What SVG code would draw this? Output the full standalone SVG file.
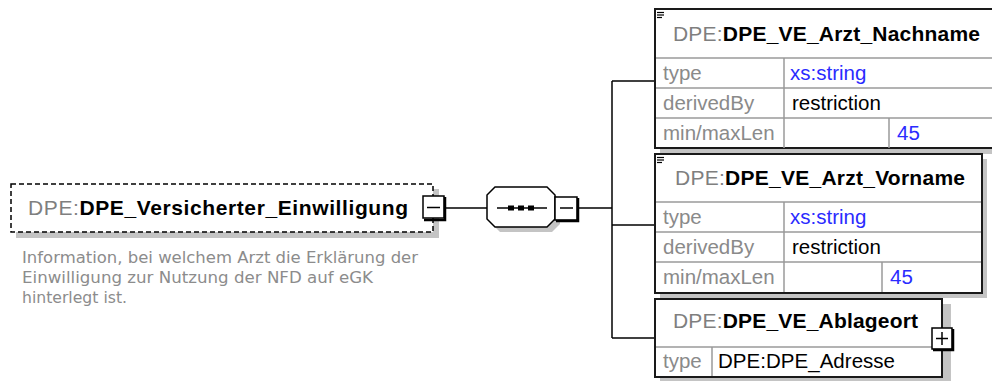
<svg xmlns="http://www.w3.org/2000/svg" width="992" height="381" viewBox="0 0 992 381">
<defs>
<style>
.bg{fill:#ffffff}
.sh{fill:#c4c4c4}
.box{fill:#ffffff;stroke:#1a1a1a;stroke-width:2}
.grid{stroke:#9a9a9a;stroke-width:1.5;fill:none}
.conn{stroke:#000;stroke-width:1.5;fill:none}
.hdr{font-family:"Liberation Sans",Arial,sans-serif;font-size:21px}
.pre{fill:#7f7f7f}
.nm{fill:#000;font-weight:bold}
.lbl{font-family:"Liberation Sans",Arial,sans-serif;font-size:20.5px;fill:#8a8a8a}
.val{font-family:"Liberation Sans",Arial,sans-serif;font-size:20.5px;fill:#000}
.blue{fill:#2b2bff}
.doc{font-family:"DejaVu Sans",Verdana,sans-serif;font-size:15px;fill:#8c8c8c}
.btn{fill:#fff;stroke:#000;stroke-width:1.5}
.ico{stroke:#000;stroke-width:1.2}
</style>
</defs>
<rect class="bg" x="0" y="0" width="992" height="381"/>

<g id="connectors">
<line class="conn" x1="445" y1="208" x2="487" y2="208"/>
<line class="conn" x1="578" y1="208" x2="612" y2="208"/>
<line class="conn" x1="612" y1="81" x2="612" y2="338"/>
<line class="conn" x1="612" y1="81" x2="655" y2="81"/>
<line class="conn" x1="612" y1="225" x2="655" y2="225"/>
<line class="conn" x1="612" y1="338" x2="655" y2="338"/>
</g>

<g id="node-root">
<rect class="sh" x="16" y="189" width="423" height="49"/>
<rect x="11" y="184" width="422" height="48" fill="#fff" stroke="#000" stroke-width="1.5" stroke-dasharray="5,3"/>
<text class="hdr" x="28" y="215" textLength="380" lengthAdjust="spacing"><tspan class="pre">DPE:</tspan><tspan class="nm">DPE_Versicherter_Einwilligung</tspan></text>
<rect class="btn" x="423" y="196" width="21" height="22"/>
<path d="M445 197 V220 H424" fill="none" stroke="#000" stroke-width="2.5"/>
<line x1="427" y1="207.5" x2="440" y2="207.5" stroke="#000" stroke-width="1.5"/>
<text class="doc" x="22" y="263" textLength="396" lengthAdjust="spacingAndGlyphs">Information, bei welchem Arzt die Erklärung der</text>
<text class="doc" x="22" y="283" textLength="351" lengthAdjust="spacingAndGlyphs">Einwilligung zur Nutzung der NFD auf eGK</text>
<text class="doc" x="22" y="303" textLength="105" lengthAdjust="spacingAndGlyphs">hinterlegt ist.</text>
</g>

<g id="node-sequence">
<polygon class="sh" points="500,192 552,192 560,200 560,224 552,232 500,232 492,224 492,200"/>
<polygon points="495,187 547,187 555,195 555,219 547,227 495,227 487,219 487,195" fill="#fff" stroke="#000" stroke-width="1.5"/>
<line x1="497" y1="208" x2="547" y2="208" stroke="#000" stroke-width="1.5"/>
<rect x="508" y="205.5" width="6" height="5" fill="#000"/>
<rect x="518" y="205.5" width="6" height="5" fill="#000"/>
<rect x="528" y="205.5" width="6" height="5" fill="#000"/>
<rect class="btn" x="555" y="197" width="22" height="23"/>
<path d="M578 198 V221 H556" fill="none" stroke="#000" stroke-width="2.5"/>
<line x1="560" y1="208" x2="573" y2="208" stroke="#000" stroke-width="1.5"/>
</g>

<g id="node-nachname">
<rect class="sh" x="660" y="14" width="340" height="140"/>
<rect class="box" x="655" y="9" width="345" height="139"/>
<path class="grid" d="M656 58 H1000 M656 88 H1000 M656 118 H1000 M784 58 V148 M889 118 V148"/>
<g class="ico"><line x1="657" y1="12.5" x2="664" y2="12.5"/><line x1="657" y1="15" x2="664" y2="15"/><line x1="657" y1="17.5" x2="662" y2="17.5"/></g>
<text class="hdr" x="673" y="41" textLength="307" lengthAdjust="spacing"><tspan class="pre">DPE:</tspan><tspan class="nm">DPE_VE_Arzt_Nachname</tspan></text>
<text class="lbl" x="663" y="80">type</text>
<text class="val blue" x="790" y="80">xs:string</text>
<text class="lbl" x="663" y="110">derivedBy</text>
<text class="val" x="792" y="110">restriction</text>
<text class="lbl" x="663" y="140">min/maxLen</text>
<text class="val blue" x="897" y="140">45</text>
</g>

<g id="node-vorname">
<rect class="sh" x="660" y="159" width="327" height="139"/>
<rect class="box" x="655" y="154" width="327" height="139"/>
<path class="grid" d="M656 202 H981 M656 232 H981 M656 262 H981 M784 202 V292 M882 262 V292"/>
<g class="ico"><line x1="657" y1="157.5" x2="664" y2="157.5"/><line x1="657" y1="160" x2="664" y2="160"/><line x1="657" y1="162.5" x2="662" y2="162.5"/></g>
<text class="hdr" x="675" y="185" textLength="290" lengthAdjust="spacing"><tspan class="pre">DPE:</tspan><tspan class="nm">DPE_VE_Arzt_Vorname</tspan></text>
<text class="lbl" x="663" y="224">type</text>
<text class="val blue" x="790" y="224">xs:string</text>
<text class="lbl" x="663" y="254">derivedBy</text>
<text class="val" x="792" y="254">restriction</text>
<text class="lbl" x="663" y="284">min/maxLen</text>
<text class="val blue" x="890" y="284">45</text>
</g>

<g id="node-ablageort">
<rect class="sh" x="660" y="304" width="291" height="78"/>
<rect class="box" x="655" y="299" width="287" height="78"/>
<path class="grid" d="M656 347 H941 M712 347 V376"/>
<text class="hdr" x="673" y="328" textLength="245" lengthAdjust="spacing"><tspan class="pre">DPE:</tspan><tspan class="nm">DPE_VE_Ablageort</tspan></text>
<text class="lbl" x="663" y="368">type</text>
<text class="val" x="718" y="368" textLength="177" lengthAdjust="spacing">DPE:DPE_Adresse</text>
<rect class="btn" x="932" y="328" width="20" height="21"/>
<path d="M953 329 V350 H933" fill="none" stroke="#000" stroke-width="2.5"/>
<line x1="936" y1="338.5" x2="948" y2="338.5" stroke="#000" stroke-width="1.5"/>
<line x1="942" y1="332" x2="942" y2="345" stroke="#000" stroke-width="1.5"/>
</g>
</svg>
